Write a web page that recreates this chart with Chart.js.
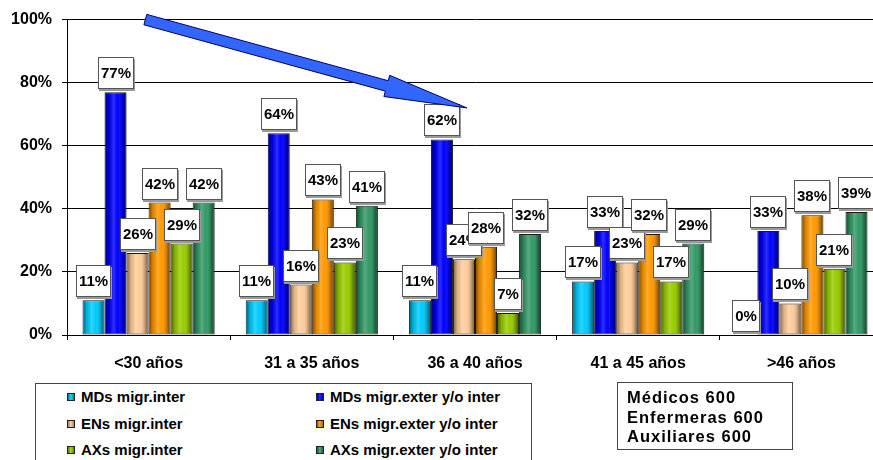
<!DOCTYPE html>
<html lang="es">
<head>
<meta charset="utf-8">
<title>Migración por grupo de edad</title>
<script src="https://cdn.jsdelivr.net/npm/chart.js@4.4.0/dist/chart.umd.min.js"></script>
<style>
    html, body { margin: 0; padding: 0; background: #fff; }
    body {
        width: 873px; height: 460px; overflow: hidden; position: relative;
        font-family: "Liberation Sans", Arial, sans-serif; color: #000;
    }
    #grafico { position: absolute; left: 0; top: 0; }
    .leyenda {
        position: absolute; left: 35px; top: 383px; width: 495px; height: 100px;
        border: 1px solid #444; background: #fff;
    }
    .leyenda .item {
        position: absolute; font-weight: bold; font-size: 15px; line-height: 18px; white-space: nowrap;
    }
    .leyenda .marca {
        display: inline-block; width: 6px; height: 6px; border: 1px solid #222;
        margin-right: 6px; vertical-align: 1px;
    }
    .muestra {
        position: absolute; left: 617px; top: 382px; width: 165px; height: 61px;
        border: 1px solid #444; padding: 5px 0 0 9px;
        font-weight: bold; font-size: 16.5px; line-height: 19.5px; letter-spacing: 1px; white-space: nowrap;
    }
</style>
</head>
<body>
<canvas id="grafico" width="884" height="460"></canvas>
<div class="leyenda" id="leyenda"></div>
<div class="muestra" id="muestra"></div>

<script>
// Grupos de edad
const grupos = ['<30 años', '31 a 35 años', '36 a 40 años', '41 a 45 años', '>46 años'];

// Porcentajes por serie (uno por grupo de edad)
const mdsInter = [11, 11, 11, 17, 0];
const mdsExter = [77, 64, 62, 33, 33];
const ensInter = [26, 16, 24, 23, 10];
const ensExter = [42, 43, 28, 32, 38];
const axsInter = [29, 23, 7, 17, 21];
const axsExter = [42, 41, 32, 29, 39];

const series = [
    'MDs migr.inter', 'MDs migr.exter y/o inter',
    'ENs migr.inter', 'ENs migr.exter y/o inter',
    'AXs migr.inter', 'AXs migr.exter y/o inter'
];
const colores = ['#00CCFF', '#0000FF', '#FFCC99', '#FF9900', '#99CC00', '#339966'];

// Marcas del eje Y
const ticksY = [0, 20, 40, 60, 80, 100];

// Tamaño de la muestra
const profesiones = ['Médicos', 'Enfermeras', 'Auxiliares'];
const tamanos = [600, 600, 600];

// Flecha: [índice de grupo, %] de la cola y de la punta
const flechaDesde = [-0.02, 100];
const flechaHasta = [1.95, 72];

const FUENTE = '"Liberation Sans", Arial, sans-serif';
Chart.defaults.font.family = FUENTE;
Chart.defaults.color = '#000';

// Sombreado cilíndrico, etiquetas con recuadro y flecha
const decoraciones = {
    id: 'decoraciones',
    afterDatasetsDraw(chart) {
        const ctx = chart.ctx;
        ctx.save();

        // brillo / sombra horizontal en cada barra
        chart.data.datasets.forEach((ds, i) => {
            chart.getDatasetMeta(i).data.forEach(bar => {
                const { x, y, base, width } = bar.getProps(['x', 'y', 'base', 'width'], true);
                if (base - y < 3) return;
                const izq = x - width / 2 + 1;
                const der = x + width / 2 - 1;
                const g = ctx.createLinearGradient(izq, 0, der, 0);
                g.addColorStop(0, 'rgba(0,0,0,0.45)');
                g.addColorStop(0.18, 'rgba(0,0,0,0.12)');
                g.addColorStop(0.4, 'rgba(255,255,255,0.18)');
                g.addColorStop(0.6, 'rgba(255,255,255,0)');
                g.addColorStop(0.85, 'rgba(0,0,0,0.22)');
                g.addColorStop(1, 'rgba(0,0,0,0.5)');
                ctx.fillStyle = g;
                ctx.fillRect(izq, y + 1, der - izq, base - y - 2);
            });
        });

        // etiquetas de valor
        ctx.font = 'bold 15px ' + FUENTE;
        ctx.textAlign = 'center';
        ctx.textBaseline = 'middle';
        chart.data.datasets.forEach((ds, i) => {
            chart.getDatasetMeta(i).data.forEach((bar, j) => {
                const texto = ds.data[j] + '%';
                const w = Math.round(ctx.measureText(texto).width + 6);
                const h = 32;
                const bx = Math.round(bar.x - w / 2);
                const by = Math.round(bar.y - 3 - h);
                ctx.fillStyle = '#9a9a9a';
                ctx.fillRect(bx + 1, by + 2, w, h);
                ctx.fillStyle = '#fff';
                ctx.fillRect(bx, by, w, h);
                ctx.strokeStyle = '#555';
                ctx.lineWidth = 1;
                ctx.strokeRect(bx + 0.5, by + 0.5, w - 1, h - 1);
                ctx.fillStyle = '#000';
                ctx.fillText(texto, bx + w / 2, by + h / 2 + 1);
            });
        });

        // flecha
        const ex = chart.scales.x, ey = chart.scales.y;
        const x0 = ex.getPixelForValue(flechaDesde[0]), y0 = ey.getPixelForValue(flechaDesde[1]);
        const x1 = ex.getPixelForValue(flechaHasta[0]), y1 = ey.getPixelForValue(flechaHasta[1]);
        const largo = Math.hypot(x1 - x0, y1 - y0);
        const ux = (x1 - x0) / largo, uy = (y1 - y0) / largo;
        const nx = -uy, ny = ux;
        const cuerpo = 5.4, ala = 11, punta = 83;
        const bx = x1 - ux * punta, by = y1 - uy * punta;
        ctx.beginPath();
        ctx.moveTo(x0 + nx * cuerpo, y0 + ny * cuerpo);
        ctx.lineTo(bx + nx * cuerpo, by + ny * cuerpo);
        ctx.lineTo(bx + nx * ala, by + ny * ala);
        ctx.lineTo(x1, y1);
        ctx.lineTo(bx - nx * ala, by - ny * ala);
        ctx.lineTo(bx - nx * cuerpo, by - ny * cuerpo);
        ctx.lineTo(x0 - nx * cuerpo, y0 - ny * cuerpo);
        ctx.closePath();
        ctx.fillStyle = '#3366FF';
        ctx.fill();
        ctx.strokeStyle = '#000066';
        ctx.lineWidth = 1;
        ctx.stroke();

        ctx.restore();
    }
};

// Leyenda en HTML, dos columnas
const leyendaHtml = {
    id: 'leyendaHtml',
    afterUpdate(chart) {
        const caja = document.getElementById('leyenda');
        caja.innerHTML = '';
        chart.data.datasets.forEach((ds, i) => {
            const item = document.createElement('div');
            item.className = 'item';
            item.style.left = (i % 2 === 0 ? 31 : 280) + 'px';
            item.style.top = (4 + Math.floor(i / 2) * 26.7) + 'px';
            const marca = document.createElement('span');
            marca.className = 'marca';
            marca.style.background = 'linear-gradient(to right, rgba(0,0,0,0.4), rgba(255,255,255,0.15) 45%, rgba(0,0,0,0.35)), ' + ds.backgroundColor;
            item.appendChild(marca);
            item.appendChild(document.createTextNode(ds.label));
            caja.appendChild(item);
        });
    }
};

const valores = [mdsInter, mdsExter, ensInter, ensExter, axsInter, axsExter];

new Chart(document.getElementById('grafico'), {
    type: 'bar',
    data: {
        labels: grupos,
        datasets: series.map((nombre, i) => ({
            label: nombre,
            data: valores[i],
            backgroundColor: colores[i],
            borderColor: '#1a1a1a',
            borderWidth: 1,
            borderSkipped: false,
            categoryPercentage: 0.81,
            barPercentage: 1
        }))
    },
    options: {
        responsive: false,
        animation: false,
        layout: { padding: { top: 18, right: 1, bottom: 85, left: 0 } },
        plugins: {
            legend: { display: false },
            tooltip: { enabled: false }
        },
        scales: {
            x: {
                grid: { display: true, drawOnChartArea: false, tickLength: 5, color: '#000', offset: true },
                border: { color: '#000', width: 1 },
                ticks: { color: '#000', font: { size: 16, weight: 'bold' }, padding: 14, maxRotation: 0 },
                afterFit(scale) { scale.height = 40; }
            },
            y: {
                min: 0,
                max: 100,
                afterBuildTicks(scale) { scale.ticks = ticksY.map(v => ({ value: v })); },
                grid: { color: '#000', tickLength: 5 },
                border: { color: '#000', width: 1 },
                ticks: { color: '#000', font: { size: 16, weight: 'bold' }, padding: 10, callback: v => v + '%' },
                afterFit(scale) { scale.width = 67; }
            }
        }
    },
    plugins: [decoraciones, leyendaHtml]
});

// Recuadro con el tamaño de la muestra
document.getElementById('muestra').innerHTML =
    profesiones.map((p, i) => p + ' ' + tamanos[i]).join('<br>');
</script>
</body>
</html>
